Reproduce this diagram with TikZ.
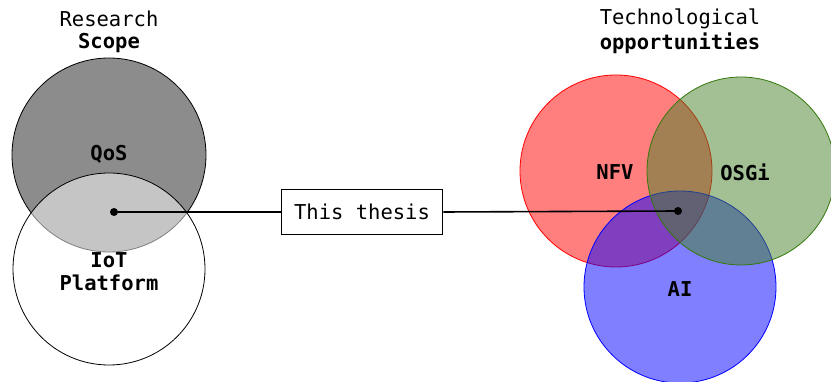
\documentclass[tikz,border=0pt]{standalone}
\usepackage{fontspec}
\setmonofont{DejaVu Sans Mono}
\begin{document}
\begin{tikzpicture}[x=1pt,y=-1pt,
  lbl/.style={font=\ttfamily\fontsize{20.5}{23}\selectfont, inner sep=0pt, align=center},
  blbl/.style={font=\ttfamily\bfseries\fontsize{20.5}{23}\selectfont, inner sep=0pt, align=center},
  venn/.style={line width=0.8pt},
  dotst/.style={circle, fill=black, inner sep=0pt, minimum size=8pt},
  conn/.style={line width=1.6pt},
  boxst/.style={draw, line width=1.6pt, fill=white, minimum width=161pt, minimum height=45pt,
    font=\ttfamily\fontsize{20.5}{23}\selectfont, inner sep=0pt}]
\definecolor{gfill}{RGB}{70,130,40}
\definecolor{gline}{RGB}{51,120,10}
\useasboundingbox (0,0) rectangle (831,382);
\fill[white] (0,0) rectangle (831,382);
% left venn
\draw[venn, fill=black!45] (109,155) circle[radius=97];
\draw[venn, fill=white, fill opacity=0.5] (109,269) circle[radius=96];
% right venn
\draw[venn, draw=red, fill=red, fill opacity=0.5] (616,171) circle[radius=96];
\draw[venn, draw=blue, fill=blue, fill opacity=0.5] (680,287) circle[radius=96];
\draw[venn, draw=gline, fill=gfill, fill opacity=0.5] (741,171) circle[radius=94];
% titles
\node[lbl] (rs) at (109,19) {Research};
\node[blbl] (sc) at (109,43) {Scope};
\node[lbl] (tc) at (680,19) {Technological};
\node[blbl] (op) at (680,43) {opportunities};
% labels
\node[blbl] (qos) at (109,154) {QoS};
\node[blbl] (iot) at (109,260) {IoT};
\node[blbl] (plat) at (109,283) {Platform};
\node[blbl] (nfv) at (615,172) {NFV};
\node[blbl] (osgi) at (745,172) {OSGi};
\node[blbl] (ai) at (680,289) {AI};
% connection
\node[dotst] (d1) at (114,212) {};
\node[dotst] (d2) at (678,211) {};
\node[boxst] (th) at (362,212) {This thesis};
\draw[conn] (d1.center) -- (th.west);
\draw[conn] (th.east) -- (d2.center);
\end{tikzpicture}
\end{document}
